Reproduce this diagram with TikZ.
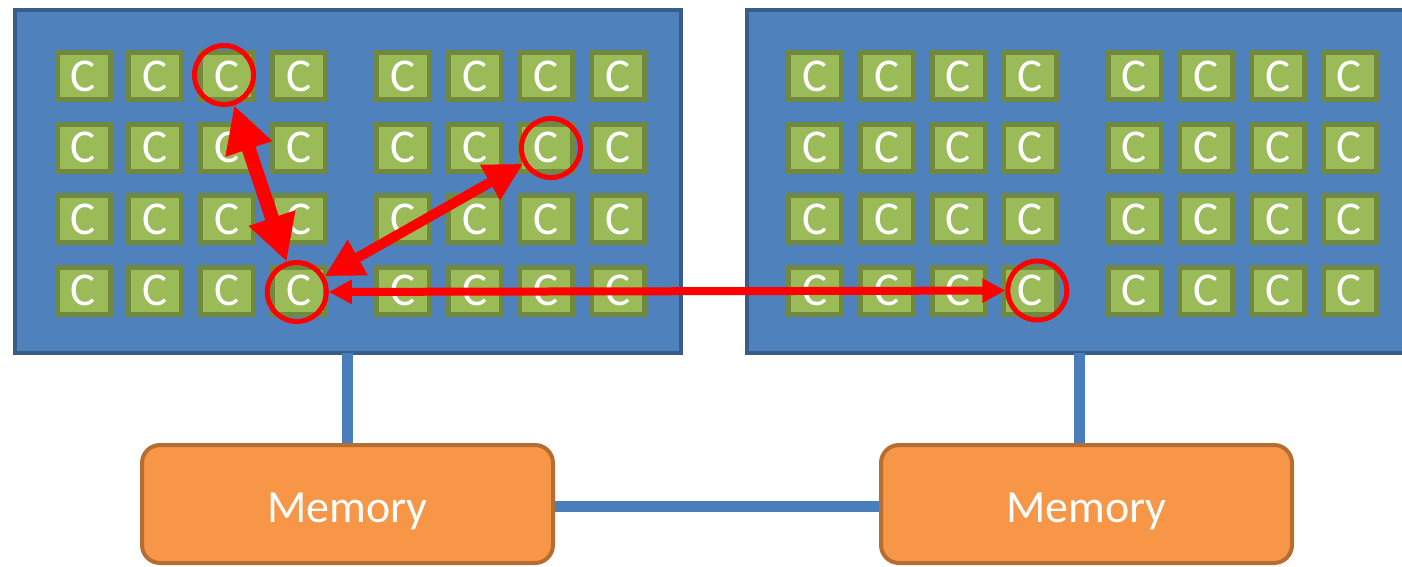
\documentclass[tikz,border=0pt]{standalone}
\usepackage{fontspec}
\setmainfont{Carlito}
\usetikzlibrary{arrows.meta,calc}
\definecolor{chipfill}{HTML}{4F81BD}
\definecolor{chipedge}{HTML}{385D8A}
\definecolor{corefill}{HTML}{9BBB59}
\definecolor{coreedge}{HTML}{71893F}
\definecolor{memfill}{HTML}{F79646}
\definecolor{memedge}{HTML}{B66D31}
\definecolor{linkblue}{HTML}{4A7EBB}
\definecolor{hot}{HTML}{FF0000}
\begin{document}
\begin{tikzpicture}[x=1pt,y=-1pt,
  chip/.style={draw=chipedge,fill=chipfill,line width=4pt,inner sep=0pt,outer sep=0pt,minimum height=343pt},
  core/.style={draw=coreedge,fill=corefill,line width=5pt,minimum width=53pt,minimum height=47pt,
    inner sep=0pt,text=white,font=\fontsize{47}{47}\selectfont},
  ring/.style={circle,draw=hot,line width=5pt,minimum size=59pt,inner sep=0pt},
  mem/.style={draw=memedge,fill=memfill,line width=4pt,rounded corners=18pt,
    minimum width=411pt,minimum height=118pt,inner sep=0pt},
  memtext/.style={text=white,font=\fontsize{46}{46}\selectfont,anchor=base,inner sep=0pt},
  bus/.style={draw=linkblue,line width=11pt},
  hop/.style={draw=hot,fill=hot}]
\useasboundingbox (0,0) rectangle (1402,566);
\clip (0,0) rectangle (1402,566);

% two processor chips
\node[chip,minimum width=666.5pt] (chipL) at (347.75,181) {};
\node[chip,minimum width=673pt] (chipR) at (1083.5,181) {};

% 4 x 8 cores on each chip
\foreach \side/\dx in {L/0,R/731.5}
  \foreach \r [count=\ri] in {76,147.5,219,290.5}
    \foreach \c [count=\ci] in {83.5,155.3,227,298.8,403,474.7,546.4,618}
      \node[core] (c\side-\ri-\ci) at (\c+\dx,\r) {C};

% highlighted cores
\node[ring] (ringA) at ($(cL-1-3)+(-3,-1)$) {};
\node[ring] (ringB) at ($(cL-2-7)+(4.5,0.5)$) {};
\node[ring] (ringC) at ($(cL-4-4)+(-2,1.5)$) {};
\node[ring] (ringD) at ($(cR-4-4)+(7,0)$) {};

% communication between cores
\draw[hop,line width=14pt,{Triangle[width=46pt,length=46pt]}-{Triangle[width=46pt,length=46pt]}] (ringC) -- (ringA);
\draw[hop,line width=10pt,{Triangle[width=38pt,length=38pt]}-{Triangle[width=38pt,length=38pt]}] (ringC) -- (ringB);
\draw[hop,line width=8pt,{Triangle[width=23pt,length=23pt]}-{Triangle[width=23pt,length=23pt]}] (ringC) -- (ringD);

% memories
\node[mem] (memL) at (347.5,504) {};
\node[mem] (memR) at (1086.5,504) {};
\node[memtext] (memLtext) at ($(memL.center)+(0,18)$) {Memory};
\node[memtext] (memRtext) at ($(memR.center)+(0,18)$) {Memory};

% links
\coordinate (tapR) at ($(memR.north)+(-7.5,0)$);
\draw[bus] (chipL.south -| memL.north) -- (memL.north);
\draw[bus] (chipR.south -| tapR) -- (tapR);
\draw[bus] ($(memL.east)+(0,2)$) -- ($(memR.west)+(0,2)$);
\end{tikzpicture}
\end{document}
